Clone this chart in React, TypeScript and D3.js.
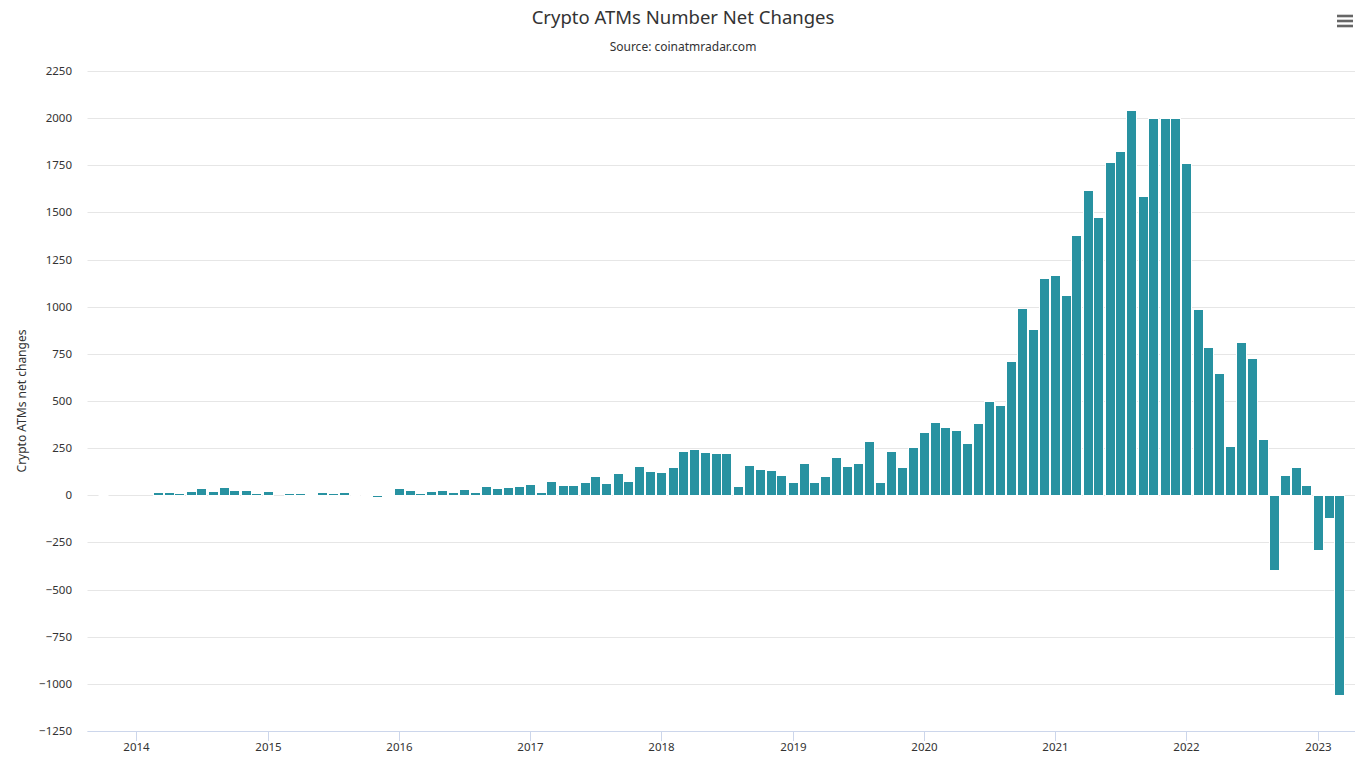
import React from "react";
import * as d3 from "d3";

const WIDTH = 1366;
const HEIGHT = 768;
const MARGIN = { top: 71, right: 11, bottom: 37, left: 87.5 };

// first and last month shown on the axis
const START_MONTH = "2013-09-01";
const END_MONTH = "2023-04-01";

// monthly net change in the number of crypto ATMs (null = no data)
const values2013: (number | null)[] = [null, 0, null, null]; // Sep-Dec
const values2014: (number | null)[] = [null, null, 18, 18, 12, 23, 39, 23, 44, 28, 28, 12];
const values2015: (number | null)[] = [23, null, 12, 12, 7, 18, 12, 18, 0, 7, -7, 7];
const values2016: (number | null)[] = [39, 28, 12, 23, 28, 18, 34, 18, 50, 39, 44, 50];
const values2017: (number | null)[] = [60, 18, 76, 55, 55, 71, 103, 66, 119, 76, 156, 129];
const values2018: (number | null)[] = [124, 151, 236, 246, 230, 225, 225, 50, 161, 140, 135, 108];
const values2019: (number | null)[] = [71, 172, 71, 103, 204, 156, 172, 289, 71, 236, 151, 257];
const values2020: (number | null)[] = [337, 390, 363, 347, 278, 385, 502, 480, 713, 993, 882, 1152];
const values2021: (number | null)[] = [1168, 1062, 1380, 1619, 1476, 1767, 1826, 2043, 1587, 2000, 2000, 2000];
const values2022: (number | null)[] = [1762, 988, 787, 649, 262, 813, 728, 299, -396, 108, 150, 55];
const values2023: (number | null)[] = [-290, -120, -1059, null]; // Jan-Apr

const yTicks = [-1250, -1000, -750, -500, -250, 0, 250, 500, 750, 1000, 1250, 1500, 1750, 2000, 2250];

const TITLE = "Crypto ATMs Number Net Changes";
const SUBTITLE = "Source: coinatmradar.com";
const Y_TITLE = "Crypto ATMs net changes";

const BAR_COLOR = "#2892a1";
const FONT = "'Noto Sans', 'Liberation Sans', sans-serif";

export default function App() {
  const values = [
    ...values2013, ...values2014, ...values2015, ...values2016, ...values2017,
    ...values2018, ...values2019, ...values2020, ...values2021, ...values2022, ...values2023,
  ];
  const start = new Date(START_MONTH + "T00:00:00Z");
  const end = new Date(END_MONTH + "T00:00:00Z");
  const months = d3.utcMonth.range(start, d3.utcMonth.offset(end, 1));
  const data = months.map((date, i) => ({ date, value: values[i] }));

  const halfRange = 14 * 24 * 3600 * 1000; // half a point range on each side
  const x = d3
    .scaleUtc()
    .domain([new Date(+start - halfRange), new Date(+end + halfRange)])
    .range([MARGIN.left, WIDTH - MARGIN.right]);
  const y = d3
    .scaleLinear()
    .domain([-1250, 2250])
    .range([HEIGHT - MARGIN.bottom, MARGIN.top]);

  const xTicks = d3.utcYear.range(new Date("2014-01-01T00:00:00Z"), new Date("2023-12-31T00:00:00Z"));
  const barW = 10;
  const y0 = Math.round(y(0));
  const plotBottom = HEIGHT - MARGIN.bottom;
  const fmtY = (t: number) => (t < 0 ? "\u2212" + Math.abs(t) : String(t));

  return (
    <svg
      width={WIDTH}
      height={HEIGHT}
      style={{ position: "absolute", left: 0, top: 0, background: "#fff" }}
      fontFamily={FONT}
    >
      <rect width={WIDTH} height={HEIGHT} fill="#fff" />
      <text x={683} y={24} textAnchor="middle" fontSize={18.5} fill="#333">
        {TITLE}
      </text>
      <text x={683} y={51} textAnchor="middle" fontSize={12} fill="#333">
        {SUBTITLE}
      </text>

      {/* menu icon */}
      {[16, 21, 26].map((yy) => (
        <line key={yy} x1={1337} x2={1353} y1={yy} y2={yy} stroke="#666" strokeWidth={2.6} />
      ))}

      {/* gridlines and y labels */}
      {yTicks.map((t) => (
        <g key={t}>
          <line
            x1={MARGIN.left}
            x2={WIDTH - MARGIN.right}
            y1={Math.round(y(t)) + 0.5}
            y2={Math.round(y(t)) + 0.5}
            stroke="#e6e6e6"
          />
          <text x={72} y={y(t) + 4} textAnchor="end" fontSize={11.5} fill="#333">
            {fmtY(t)}
          </text>
        </g>
      ))}

      <text
        transform={`translate(26,${(MARGIN.top + plotBottom) / 2}) rotate(-90)`}
        textAnchor="middle"
        fontSize={12}
        fill="#333"
      >
        {Y_TITLE}
      </text>

      {/* bars */}
      {data.map((d, i) => {
        if (d.value === null) return null;
        const cx = x(d.date);
        const bx = Math.round(cx - barW / 2) + 0.5;
        if (d.value === 0) {
          return <line key={i} x1={bx} x2={bx + barW} y1={y0 + 0.5} y2={y0 + 0.5} stroke="#fff" strokeWidth={1.5} />;
        }
        const yv = Math.round(y(d.value));
        const top = Math.min(yv, y0) + 0.5;
        const h = Math.abs(yv - y0);
        return (
          <rect key={i} x={bx} y={top} width={barW} height={h} fill={BAR_COLOR} stroke="#fff" strokeWidth={1} />
        );
      })}

      {/* x axis */}
      <line
        x1={MARGIN.left}
        x2={WIDTH - MARGIN.right}
        y1={plotBottom + 0.5}
        y2={plotBottom + 0.5}
        stroke="#ccd6eb"
      />
      {xTicks.map((t) => {
        const tx = Math.round(x(t)) + 0.5;
        return (
          <g key={+t}>
            <line x1={tx} x2={tx} y1={plotBottom} y2={plotBottom + 10} stroke="#ccd6eb" />
            <text x={tx} y={plotBottom + 20} textAnchor="middle" fontSize={11.5} fill="#333">
              {d3.utcFormat("%Y")(t)}
            </text>
          </g>
        );
      })}
    </svg>
  );
}
